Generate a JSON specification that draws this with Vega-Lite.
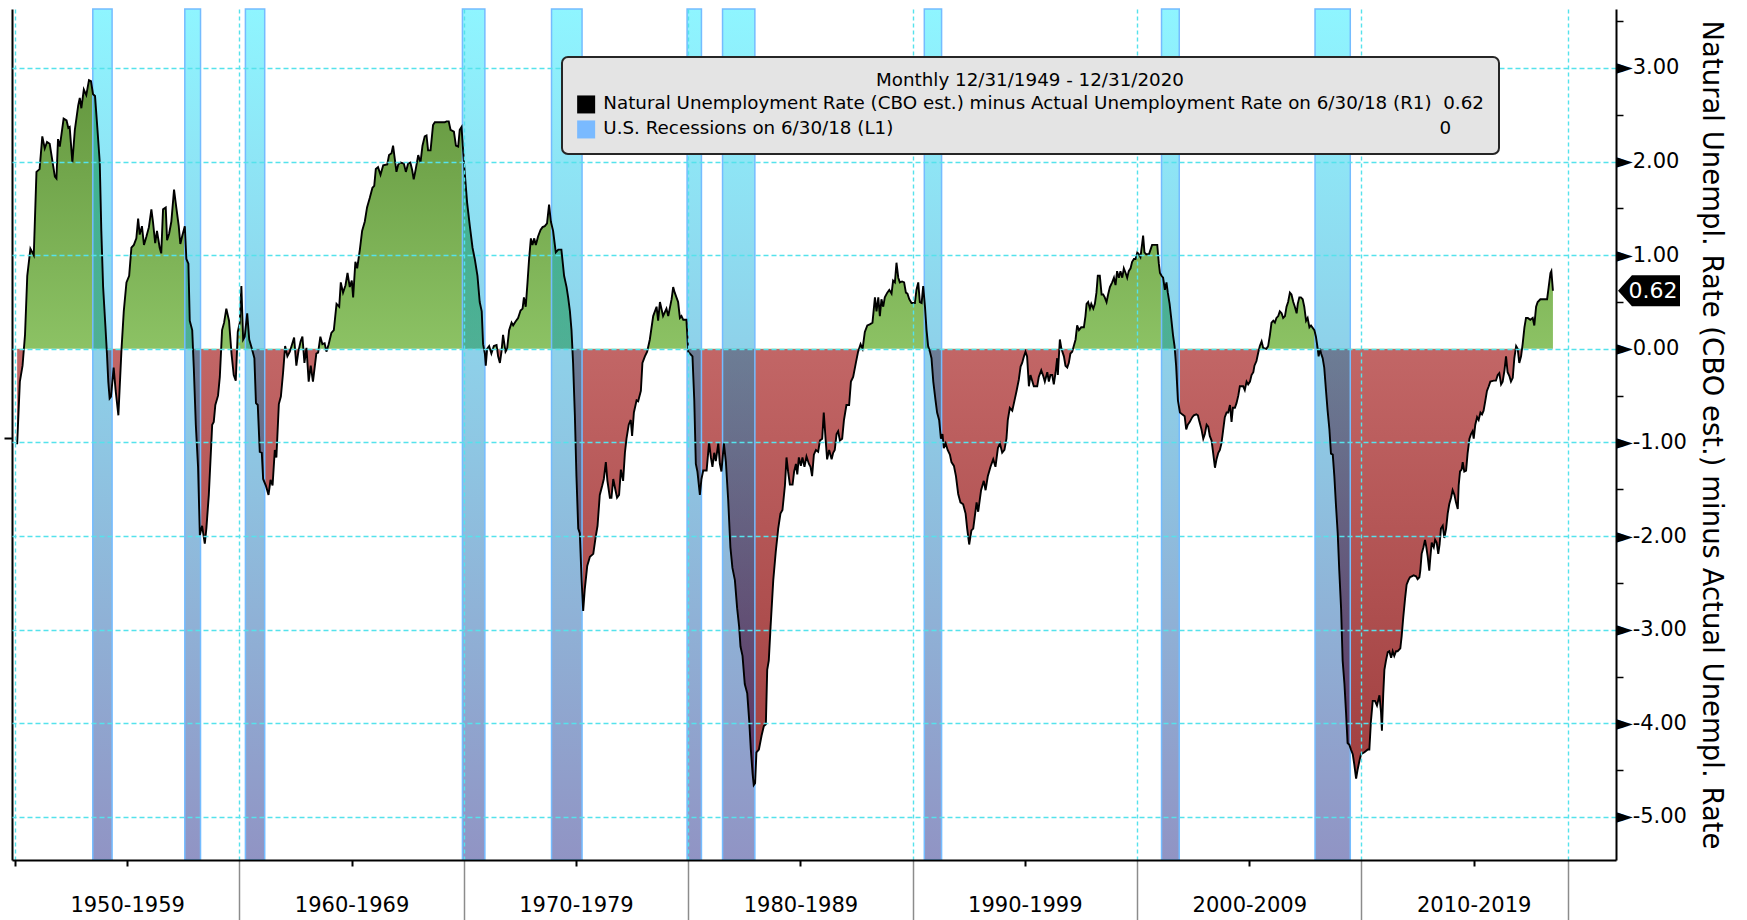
{
"$schema": "https://vega.github.io/schema/vega-lite/v6.json",
"width": 1604, "height": 851,
"autosize": {"type": "none"},
"padding": {"left": 12, "top": 9, "right": 131, "bottom": 60},
"background": "white",
"config": {"view": {"stroke": null}, "font": "DejaVu Sans"},
"datasets": {
"ue": [
{"t":1950.10,"v":-1.02},{"t":1950.22,"v":-0.35},{"t":1950.34,"v":-0.18},{"t":1950.45,"v":0.15},{"t":1950.55,"v":0.78},{"t":1950.69,"v":1.07},{"t":1950.84,"v":1.00},{"t":1950.96,"v":1.89},{"t":1951.10,"v":1.92},{"t":1951.22,"v":2.27},{"t":1951.33,"v":2.14},{"t":1951.43,"v":2.21},{"t":1951.55,"v":2.19},{"t":1951.78,"v":1.84},{"t":1951.85,"v":1.82},{"t":1951.92,"v":2.24},{"t":1952.00,"v":2.16},{"t":1952.17,"v":2.46},{"t":1952.30,"v":2.44},{"t":1952.38,"v":2.36},{"t":1952.44,"v":2.37},{"t":1952.56,"v":1.99},{"t":1952.67,"v":2.34},{"t":1952.82,"v":2.60},{"t":1952.89,"v":2.68},{"t":1952.96,"v":2.57},{"t":1953.07,"v":2.77},{"t":1953.18,"v":2.71},{"t":1953.30,"v":2.87},{"t":1953.39,"v":2.86},{"t":1953.48,"v":2.72},{"t":1953.57,"v":2.70},{"t":1953.67,"v":2.37},{"t":1953.78,"v":1.99},{"t":1953.85,"v":1.26},{"t":1953.93,"v":0.66},{"t":1954.03,"v":0.25},{"t":1954.10,"v":-0.05},{"t":1954.16,"v":-0.35},{"t":1954.22,"v":-0.53},{"t":1954.28,"v":-0.51},{"t":1954.40,"v":-0.20},{"t":1954.49,"v":-0.45},{"t":1954.61,"v":-0.71},{"t":1954.75,"v":0.00},{"t":1954.85,"v":0.40},{"t":1954.97,"v":0.71},{"t":1955.09,"v":0.78},{"t":1955.19,"v":1.08},{"t":1955.30,"v":1.11},{"t":1955.41,"v":1.18},{"t":1955.49,"v":1.39},{"t":1955.56,"v":1.22},{"t":1955.66,"v":1.31},{"t":1955.75,"v":1.11},{"t":1955.86,"v":1.20},{"t":1955.97,"v":1.30},{"t":1956.08,"v":1.49},{"t":1956.15,"v":1.36},{"t":1956.25,"v":1.13},{"t":1956.33,"v":1.26},{"t":1956.45,"v":1.08},{"t":1956.52,"v":1.02},{"t":1956.60,"v":1.49},{"t":1956.72,"v":1.51},{"t":1956.78,"v":1.16},{"t":1956.87,"v":1.23},{"t":1956.97,"v":1.36},{"t":1957.09,"v":1.70},{"t":1957.19,"v":1.51},{"t":1957.30,"v":1.31},{"t":1957.37,"v":1.12},{"t":1957.46,"v":1.21},{"t":1957.57,"v":1.31},{"t":1957.64,"v":0.96},{"t":1957.73,"v":0.91},{"t":1957.79,"v":0.30},{"t":1957.90,"v":0.20},{"t":1957.97,"v":-0.20},{"t":1958.06,"v":-0.81},{"t":1958.16,"v":-1.26},{"t":1958.24,"v":-1.99},{"t":1958.34,"v":-1.89},{"t":1958.46,"v":-2.08},{"t":1958.53,"v":-1.92},{"t":1958.64,"v":-1.56},{"t":1958.73,"v":-1.11},{"t":1958.79,"v":-0.81},{"t":1958.86,"v":-0.78},{"t":1958.93,"v":-0.60},{"t":1959.05,"v":-0.50},{"t":1959.13,"v":-0.30},{"t":1959.23,"v":0.20},{"t":1959.32,"v":0.28},{"t":1959.42,"v":0.43},{"t":1959.54,"v":0.30},{"t":1959.65,"v":-0.05},{"t":1959.75,"v":-0.28},{"t":1959.84,"v":-0.34},{"t":1959.93,"v":0.18},{"t":1960.02,"v":0.28},{"t":1960.09,"v":0.67},{"t":1960.17,"v":0.10},{"t":1960.24,"v":0.13},{"t":1960.35,"v":0.38},{"t":1960.44,"v":0.10},{"t":1960.56,"v":0.00},{"t":1960.67,"v":-0.10},{"t":1960.74,"v":-0.58},{"t":1960.82,"v":-0.60},{"t":1960.91,"v":-1.10},{"t":1961.00,"v":-1.11},{"t":1961.06,"v":-1.39},{"t":1961.18,"v":-1.46},{"t":1961.30,"v":-1.56},{"t":1961.39,"v":-1.40},{"t":1961.48,"v":-1.46},{"t":1961.58,"v":-1.08},{"t":1961.65,"v":-1.16},{"t":1961.76,"v":-0.59},{"t":1961.85,"v":-0.51},{"t":1961.95,"v":-0.25},{"t":1962.04,"v":0.03},{"t":1962.14,"v":-0.08},{"t":1962.25,"v":-0.03},{"t":1962.35,"v":0.05},{"t":1962.44,"v":0.12},{"t":1962.54,"v":-0.18},{"t":1962.63,"v":-0.03},{"t":1962.73,"v":0.08},{"t":1962.81,"v":0.13},{"t":1962.90,"v":-0.15},{"t":1962.99,"v":0.01},{"t":1963.09,"v":-0.35},{"t":1963.18,"v":-0.18},{"t":1963.28,"v":-0.35},{"t":1963.43,"v":-0.05},{"t":1963.51,"v":-0.04},{"t":1963.61,"v":0.13},{"t":1963.70,"v":0.05},{"t":1963.80,"v":0.06},{"t":1963.88,"v":-0.03},{"t":1963.98,"v":0.05},{"t":1964.10,"v":0.17},{"t":1964.21,"v":0.20},
{"t":1964.33,"v":0.48},{"t":1964.45,"v":0.45},{"t":1964.52,"v":0.71},{"t":1964.62,"v":0.60},{"t":1964.73,"v":0.68},{"t":1964.82,"v":0.81},{"t":1964.92,"v":0.66},{"t":1965.01,"v":0.73},{"t":1965.07,"v":0.55},{"t":1965.17,"v":0.93},{"t":1965.25,"v":0.86},{"t":1965.37,"v":1.06},{"t":1965.47,"v":1.26},{"t":1965.59,"v":1.36},{"t":1965.69,"v":1.51},{"t":1965.81,"v":1.61},{"t":1965.93,"v":1.72},{"t":1966.01,"v":1.74},{"t":1966.08,"v":1.92},{"t":1966.18,"v":1.94},{"t":1966.29,"v":1.86},{"t":1966.41,"v":1.96},{"t":1966.59,"v":1.97},{"t":1966.67,"v":2.07},{"t":1966.78,"v":2.09},{"t":1966.85,"v":2.17},{"t":1966.93,"v":2.02},{"t":1967.00,"v":1.89},{"t":1967.08,"v":1.97},{"t":1967.18,"v":1.99},{"t":1967.33,"v":1.98},{"t":1967.42,"v":1.89},{"t":1967.52,"v":1.98},{"t":1967.62,"v":1.99},{"t":1967.70,"v":1.91},{"t":1967.77,"v":1.81},{"t":1967.86,"v":1.92},{"t":1967.97,"v":2.07},{"t":1968.07,"v":1.99},{"t":1968.16,"v":2.17},{"t":1968.26,"v":2.27},{"t":1968.34,"v":2.28},{"t":1968.41,"v":2.12},{"t":1968.52,"v":2.12},{"t":1968.63,"v":2.39},{"t":1968.71,"v":2.42},{"t":1968.86,"v":2.42},{"t":1969.15,"v":2.42},{"t":1969.23,"v":2.43},{"t":1969.33,"v":2.43},{"t":1969.41,"v":2.34},{"t":1969.56,"v":2.32},{"t":1969.65,"v":2.17},{"t":1969.75,"v":2.16},{"t":1969.82,"v":2.34},{"t":1969.90,"v":2.37},{"t":1969.97,"v":2.12},{"t":1970.05,"v":1.86},{"t":1970.15,"v":1.56},{"t":1970.27,"v":1.31},{"t":1970.39,"v":1.08},{"t":1970.49,"v":0.96},{"t":1970.61,"v":0.78},{"t":1970.71,"v":0.50},{"t":1970.80,"v":0.40},{"t":1970.86,"v":0.05},{"t":1970.94,"v":-0.05},{"t":1970.98,"v":-0.18},{"t":1971.04,"v":0.00},{"t":1971.13,"v":0.03},{"t":1971.23,"v":-0.05},{"t":1971.34,"v":0.03},{"t":1971.46,"v":0.04},{"t":1971.53,"v":-0.08},{"t":1971.61,"v":-0.15},{"t":1971.68,"v":-0.03},{"t":1971.75,"v":0.15},{"t":1971.86,"v":-0.03},{"t":1971.93,"v":0.00},{"t":1972.02,"v":0.20},{"t":1972.13,"v":0.28},{"t":1972.20,"v":0.25},{"t":1972.30,"v":0.29},{"t":1972.42,"v":0.33},{"t":1972.53,"v":0.41},{"t":1972.62,"v":0.43},{"t":1972.68,"v":0.55},{"t":1972.76,"v":0.45},{"t":1972.84,"v":0.71},{"t":1972.91,"v":0.96},{"t":1972.99,"v":1.18},{"t":1973.06,"v":1.11},{"t":1973.14,"v":1.18},{"t":1973.21,"v":1.11},{"t":1973.31,"v":1.20},{"t":1973.42,"v":1.27},{"t":1973.51,"v":1.30},{"t":1973.61,"v":1.31},{"t":1973.71,"v":1.34},{"t":1973.80,"v":1.54},{"t":1973.88,"v":1.36},{"t":1973.98,"v":1.26},{"t":1974.10,"v":1.03},{"t":1974.21,"v":1.06},{"t":1974.35,"v":1.06},{"t":1974.47,"v":0.78},{"t":1974.58,"v":0.66},{"t":1974.65,"v":0.55},{"t":1974.73,"v":0.40},{"t":1974.80,"v":0.20},{"t":1974.87,"v":-0.15},{"t":1974.95,"v":-0.71},{"t":1975.02,"v":-1.36},{"t":1975.10,"v":-1.92},{"t":1975.17,"v":-1.97},{"t":1975.25,"v":-2.47},{"t":1975.32,"v":-2.80},{"t":1975.39,"v":-2.57},{"t":1975.50,"v":-2.32},{"t":1975.62,"v":-2.22},{"t":1975.77,"v":-2.19},{"t":1975.87,"v":-2.02},{"t":1975.96,"v":-1.89},{"t":1976.06,"v":-1.56},{"t":1976.17,"v":-1.46},{"t":1976.24,"v":-1.39},{"t":1976.33,"v":-1.21},{"t":1976.40,"v":-1.41},{"t":1976.51,"v":-1.59},{"t":1976.58,"v":-1.59},{"t":1976.66,"v":-1.39},{"t":1976.76,"v":-1.51},{"t":1976.83,"v":-1.59},{"t":1976.92,"v":-1.56},{"t":1977.00,"v":-1.29},{"t":1977.10,"v":-1.41},{"t":1977.18,"v":-1.11},{"t":1977.25,"v":-0.96},{"t":1977.35,"v":-0.81},{"t":1977.44,"v":-0.76},{"t":1977.50,"v":-0.93},{"t":1977.58,"v":-0.68},{"t":1977.70,"v":-0.55},{"t":1977.77,"v":-0.56},{"t":1977.89,"v":-0.45},{"t":1977.96,"v":-0.15},{"t":1978.07,"v":-0.08},{"t":1978.17,"v":-0.03},
{"t":1978.29,"v":0.10},{"t":1978.44,"v":0.35},{"t":1978.59,"v":0.45},{"t":1978.66,"v":0.30},{"t":1978.74,"v":0.50},{"t":1978.88,"v":0.35},{"t":1979.03,"v":0.43},{"t":1979.11,"v":0.35},{"t":1979.26,"v":0.53},{"t":1979.33,"v":0.66},{"t":1979.40,"v":0.60},{"t":1979.55,"v":0.50},{"t":1979.63,"v":0.33},{"t":1979.70,"v":0.35},{"t":1979.78,"v":0.31},{"t":1979.92,"v":0.31},{"t":1980.00,"v":-0.03},{"t":1980.19,"v":-0.08},{"t":1980.27,"v":-0.55},{"t":1980.34,"v":-1.23},{"t":1980.41,"v":-1.31},{"t":1980.52,"v":-1.56},{"t":1980.59,"v":-1.39},{"t":1980.67,"v":-1.30},{"t":1980.82,"v":-1.30},{"t":1980.93,"v":-1.00},{"t":1981.01,"v":-1.16},{"t":1981.08,"v":-1.26},{"t":1981.16,"v":-1.11},{"t":1981.23,"v":-1.20},{"t":1981.34,"v":-1.01},{"t":1981.41,"v":-1.23},{"t":1981.48,"v":-1.31},{"t":1981.59,"v":-1.01},{"t":1981.68,"v":-1.21},{"t":1981.78,"v":-1.61},{"t":1981.88,"v":-2.12},{"t":1981.97,"v":-2.34},{"t":1982.08,"v":-2.47},{"t":1982.18,"v":-2.77},{"t":1982.27,"v":-2.97},{"t":1982.33,"v":-3.18},{"t":1982.42,"v":-3.28},{"t":1982.52,"v":-3.58},{"t":1982.63,"v":-3.68},{"t":1982.72,"v":-3.98},{"t":1982.79,"v":-4.28},{"t":1982.87,"v":-4.54},{"t":1982.92,"v":-4.66},{"t":1982.98,"v":-4.64},{"t":1983.04,"v":-4.31},{"t":1983.15,"v":-4.28},{"t":1983.27,"v":-4.13},{"t":1983.37,"v":-4.03},{"t":1983.46,"v":-4.01},{"t":1983.52,"v":-3.43},{"t":1983.59,"v":-3.33},{"t":1983.67,"v":-2.97},{"t":1983.79,"v":-2.47},{"t":1983.90,"v":-2.17},{"t":1984.01,"v":-1.92},{"t":1984.11,"v":-1.76},{"t":1984.20,"v":-1.72},{"t":1984.31,"v":-1.46},{"t":1984.38,"v":-1.16},{"t":1984.45,"v":-1.31},{"t":1984.53,"v":-1.45},{"t":1984.65,"v":-1.45},{"t":1984.72,"v":-1.31},{"t":1984.80,"v":-1.23},{"t":1984.86,"v":-1.34},{"t":1984.93,"v":-1.16},{"t":1985.02,"v":-1.25},{"t":1985.09,"v":-1.16},{"t":1985.18,"v":-1.26},{"t":1985.27,"v":-1.15},{"t":1985.38,"v":-1.23},{"t":1985.45,"v":-1.26},{"t":1985.52,"v":-1.36},{"t":1985.60,"v":-1.13},{"t":1985.69,"v":-1.08},{"t":1985.79,"v":-1.10},{"t":1985.87,"v":-0.98},{"t":1985.97,"v":-0.96},{"t":1986.04,"v":-0.68},{"t":1986.12,"v":-0.96},{"t":1986.19,"v":-1.18},{"t":1986.28,"v":-1.08},{"t":1986.39,"v":-1.18},{"t":1986.46,"v":-1.11},{"t":1986.53,"v":-1.08},{"t":1986.61,"v":-0.91},{"t":1986.68,"v":-0.88},{"t":1986.76,"v":-0.98},{"t":1986.86,"v":-0.96},{"t":1986.94,"v":-0.76},{"t":1987.05,"v":-0.60},{"t":1987.17,"v":-0.60},{"t":1987.25,"v":-0.35},{"t":1987.35,"v":-0.30},{"t":1987.47,"v":-0.15},{"t":1987.57,"v":-0.03},{"t":1987.68,"v":0.05},{"t":1987.77,"v":0.00},{"t":1987.87,"v":0.18},{"t":1987.98,"v":0.25},{"t":1988.09,"v":0.26},{"t":1988.21,"v":0.28},{"t":1988.32,"v":0.55},{"t":1988.39,"v":0.40},{"t":1988.47,"v":0.55},{"t":1988.54,"v":0.35},{"t":1988.61,"v":0.53},{"t":1988.69,"v":0.45},{"t":1988.76,"v":0.55},{"t":1988.87,"v":0.60},{"t":1988.96,"v":0.63},{"t":1989.06,"v":0.59},{"t":1989.13,"v":0.73},{"t":1989.21,"v":0.71},{"t":1989.28,"v":0.92},{"t":1989.36,"v":0.76},{"t":1989.43,"v":0.71},{"t":1989.53,"v":0.72},{"t":1989.62,"v":0.71},{"t":1989.70,"v":0.60},{"t":1989.77,"v":0.59},{"t":1989.85,"v":0.53},{"t":1989.95,"v":0.49},{"t":1990.10,"v":0.49},{"t":1990.17,"v":0.63},{"t":1990.25,"v":0.71},{"t":1990.32,"v":0.50},{"t":1990.40,"v":0.49},{"t":1990.47,"v":0.67},{"t":1990.55,"v":0.45},{"t":1990.62,"v":0.20},{"t":1990.69,"v":0.03},{"t":1990.77,"v":-0.03},{"t":1990.84,"v":-0.10},{"t":1990.92,"v":-0.35},{"t":1991.02,"v":-0.55},{"t":1991.09,"v":-0.68},{"t":1991.18,"v":-0.76},{"t":1991.26,"v":-0.96},{"t":1991.33,"v":-0.91},{"t":1991.39,"v":-1.06},{"t":1991.47,"v":-1.01},{"t":1991.56,"v":-1.08},{"t":1991.66,"v":-1.13},{"t":1991.73,"v":-1.21},{"t":1991.84,"v":-1.25},{"t":1991.93,"v":-1.36},{"t":1992.03,"v":-1.55},{"t":1992.13,"v":-1.64},{"t":1992.25,"v":-1.66},{"t":1992.36,"v":-1.76},{"t":1992.43,"v":-1.92},{"t":1992.52,"v":-2.09},{"t":1992.62,"v":-1.94},{"t":1992.70,"v":-1.92},{"t":1992.85,"v":-1.64},{"t":1992.92,"v":-1.74},
{"t":1993.05,"v":-1.51},{"t":1993.17,"v":-1.41},{"t":1993.25,"v":-1.51},{"t":1993.35,"v":-1.36},{"t":1993.47,"v":-1.26},{"t":1993.59,"v":-1.18},{"t":1993.69,"v":-1.26},{"t":1993.80,"v":-1.06},{"t":1993.89,"v":-1.01},{"t":1993.99,"v":-1.11},{"t":1994.09,"v":-1.08},{"t":1994.18,"v":-0.96},{"t":1994.24,"v":-0.76},{"t":1994.33,"v":-0.63},{"t":1994.44,"v":-0.66},{"t":1994.54,"v":-0.55},{"t":1994.63,"v":-0.45},{"t":1994.73,"v":-0.33},{"t":1994.81,"v":-0.19},{"t":1994.88,"v":-0.15},{"t":1994.96,"v":-0.08},{"t":1995.03,"v":-0.03},{"t":1995.10,"v":-0.08},{"t":1995.18,"v":-0.40},{"t":1995.25,"v":-0.28},{"t":1995.40,"v":-0.40},{"t":1995.55,"v":-0.40},{"t":1995.62,"v":-0.30},{"t":1995.73,"v":-0.23},{"t":1995.82,"v":-0.29},{"t":1995.89,"v":-0.35},{"t":1996.00,"v":-0.25},{"t":1996.07,"v":-0.35},{"t":1996.14,"v":-0.28},{"t":1996.22,"v":-0.28},{"t":1996.29,"v":-0.38},{"t":1996.37,"v":-0.25},{"t":1996.44,"v":-0.10},{"t":1996.47,"v":-0.28},{"t":1996.56,"v":0.10},{"t":1996.63,"v":0.00},{"t":1996.74,"v":-0.08},{"t":1996.81,"v":-0.18},{"t":1996.89,"v":-0.20},{"t":1996.96,"v":-0.15},{"t":1997.03,"v":-0.05},{"t":1997.11,"v":-0.03},{"t":1997.18,"v":0.03},{"t":1997.26,"v":0.10},{"t":1997.33,"v":0.25},{"t":1997.41,"v":0.20},{"t":1997.51,"v":0.23},{"t":1997.63,"v":0.23},{"t":1997.70,"v":0.35},{"t":1997.75,"v":0.48},{"t":1997.82,"v":0.50},{"t":1997.90,"v":0.43},{"t":1997.96,"v":0.48},{"t":1998.05,"v":0.43},{"t":1998.12,"v":0.48},{"t":1998.19,"v":0.60},{"t":1998.25,"v":0.78},{"t":1998.34,"v":0.78},{"t":1998.42,"v":0.58},{"t":1998.49,"v":0.58},{"t":1998.56,"v":0.55},{"t":1998.64,"v":0.50},{"t":1998.71,"v":0.58},{"t":1998.79,"v":0.66},{"t":1998.89,"v":0.71},{"t":1998.97,"v":0.76},{"t":1999.04,"v":0.68},{"t":1999.11,"v":0.83},{"t":1999.19,"v":0.76},{"t":1999.26,"v":0.83},{"t":1999.34,"v":0.76},{"t":1999.41,"v":0.86},{"t":1999.49,"v":0.81},{"t":1999.56,"v":0.76},{"t":1999.63,"v":0.83},{"t":1999.71,"v":0.86},{"t":1999.78,"v":0.93},{"t":1999.86,"v":0.96},{"t":1999.93,"v":0.96},{"t":2000.01,"v":1.03},{"t":2000.08,"v":1.01},{"t":2000.15,"v":0.98},{"t":2000.23,"v":1.13},{"t":2000.27,"v":1.21},{"t":2000.33,"v":1.03},{"t":2000.41,"v":1.01},{"t":2000.53,"v":1.01},{"t":2000.60,"v":1.06},{"t":2000.67,"v":1.11},{"t":2000.90,"v":1.11},{"t":2000.97,"v":0.91},{"t":2001.02,"v":0.81},{"t":2001.09,"v":0.78},{"t":2001.16,"v":0.76},{"t":2001.24,"v":0.63},{"t":2001.31,"v":0.71},{"t":2001.37,"v":0.60},{"t":2001.45,"v":0.48},{"t":2001.52,"v":0.33},{"t":2001.60,"v":0.15},{"t":2001.67,"v":0.03},{"t":2001.74,"v":-0.18},{"t":2001.82,"v":-0.55},{"t":2001.91,"v":-0.68},{"t":2002.01,"v":-0.70},{"t":2002.12,"v":-0.72},{"t":2002.19,"v":-0.86},{"t":2002.26,"v":-0.81},{"t":2002.35,"v":-0.78},{"t":2002.46,"v":-0.73},{"t":2002.53,"v":-0.71},{"t":2002.64,"v":-0.70},{"t":2002.71,"v":-0.71},{"t":2002.78,"v":-0.78},{"t":2002.87,"v":-0.86},{"t":2002.95,"v":-0.96},{"t":2003.02,"v":-0.91},{"t":2003.10,"v":-0.81},{"t":2003.17,"v":-0.83},{"t":2003.24,"v":-0.93},{"t":2003.32,"v":-0.98},{"t":2003.39,"v":-1.11},{"t":2003.47,"v":-1.27},{"t":2003.54,"v":-1.18},{"t":2003.62,"v":-1.11},{"t":2003.69,"v":-1.08},{"t":2003.76,"v":-1.01},{"t":2003.84,"v":-0.86},{"t":2003.91,"v":-0.73},{"t":2003.99,"v":-0.68},{"t":2004.06,"v":-0.68},{"t":2004.14,"v":-0.60},{"t":2004.21,"v":-0.78},{"t":2004.27,"v":-0.63},{"t":2004.36,"v":-0.63},{"t":2004.43,"v":-0.58},{"t":2004.51,"v":-0.50},{"t":2004.58,"v":-0.40},{"t":2004.73,"v":-0.40},{"t":2004.80,"v":-0.44},{"t":2004.88,"v":-0.35},{"t":2004.95,"v":-0.38},{"t":2005.03,"v":-0.35},{"t":2005.10,"v":-0.28},{"t":2005.18,"v":-0.25},{"t":2005.23,"v":-0.18},{"t":2005.32,"v":-0.13},{"t":2005.40,"v":-0.04},{"t":2005.47,"v":0.03},{"t":2005.55,"v":0.08},{"t":2005.62,"v":0.01},{"t":2005.77,"v":0.00},{"t":2005.84,"v":0.03},{"t":2005.92,"v":0.15},{"t":2005.99,"v":0.28},{"t":2006.07,"v":0.30},{"t":2006.14,"v":0.28},{"t":2006.21,"v":0.33},{"t":2006.29,"v":0.35},{"t":2006.36,"v":0.40},{"t":2006.44,"v":0.38},{"t":2006.51,"v":0.33},{"t":2006.59,"v":0.35},{"t":2006.66,"v":0.45},{"t":2006.73,"v":0.50},{"t":2006.81,"v":0.60},{"t":2006.88,"v":0.58},{"t":2006.96,"v":0.50},{"t":2007.03,"v":0.45},{"t":2007.11,"v":0.38},
{"t":2007.16,"v":0.48},{"t":2007.23,"v":0.55},{"t":2007.30,"v":0.55},{"t":2007.38,"v":0.53},{"t":2007.45,"v":0.45},{"t":2007.53,"v":0.30},{"t":2007.60,"v":0.33},{"t":2007.68,"v":0.23},{"t":2007.75,"v":0.25},{"t":2007.90,"v":0.20},{"t":2007.97,"v":0.13},{"t":2008.05,"v":0.00},{"t":2008.09,"v":-0.08},{"t":2008.15,"v":0.00},{"t":2008.20,"v":-0.05},{"t":2008.27,"v":-0.10},{"t":2008.34,"v":-0.20},{"t":2008.42,"v":-0.45},{"t":2008.49,"v":-0.66},{"t":2008.57,"v":-0.86},{"t":2008.64,"v":-1.12},{"t":2008.72,"v":-1.13},{"t":2008.79,"v":-1.36},{"t":2008.86,"v":-1.66},{"t":2008.94,"v":-1.97},{"t":2009.01,"v":-2.37},{"t":2009.09,"v":-2.77},{"t":2009.16,"v":-3.33},{"t":2009.24,"v":-3.58},{"t":2009.31,"v":-3.88},{"t":2009.38,"v":-4.21},{"t":2009.46,"v":-4.23},{"t":2009.53,"v":-4.28},{"t":2009.61,"v":-4.33},{"t":2009.68,"v":-4.44},{"t":2009.76,"v":-4.59},{"t":2009.83,"v":-4.49},{"t":2009.90,"v":-4.41},{"t":2009.98,"v":-4.33},{"t":2010.13,"v":-4.31},{"t":2010.28,"v":-4.28},{"t":2010.35,"v":-4.28},{"t":2010.42,"v":-3.98},{"t":2010.50,"v":-3.76},{"t":2010.60,"v":-3.76},{"t":2010.69,"v":-3.81},{"t":2010.80,"v":-3.70},{"t":2010.87,"v":-3.88},{"t":2010.91,"v":-4.08},{"t":2010.97,"v":-3.68},{"t":2011.02,"v":-3.43},{"t":2011.09,"v":-3.33},{"t":2011.17,"v":-3.24},{"t":2011.24,"v":-3.23},{"t":2011.32,"v":-3.30},{"t":2011.39,"v":-3.23},{"t":2011.46,"v":-3.28},{"t":2011.54,"v":-3.23},{"t":2011.61,"v":-3.23},{"t":2011.73,"v":-3.20},{"t":2011.79,"v":-3.07},{"t":2011.86,"v":-2.87},{"t":2011.94,"v":-2.67},{"t":2012.01,"v":-2.52},{"t":2012.09,"v":-2.47},{"t":2012.16,"v":-2.44},{"t":2012.24,"v":-2.43},{"t":2012.32,"v":-2.42},{"t":2012.43,"v":-2.43},{"t":2012.50,"v":-2.46},{"t":2012.58,"v":-2.44},{"t":2012.62,"v":-2.37},{"t":2012.68,"v":-2.19},{"t":2012.76,"v":-2.12},{"t":2012.83,"v":-2.04},{"t":2012.89,"v":-2.12},{"t":2012.95,"v":-2.22},{"t":2013.02,"v":-2.37},{"t":2013.07,"v":-2.22},{"t":2013.13,"v":-2.07},{"t":2013.22,"v":-2.12},{"t":2013.28,"v":-2.04},{"t":2013.35,"v":-2.07},{"t":2013.42,"v":-2.19},{"t":2013.48,"v":-2.09},{"t":2013.54,"v":-1.92},{"t":2013.62,"v":-1.89},{"t":2013.69,"v":-2.02},{"t":2013.77,"v":-1.92},{"t":2013.84,"v":-1.76},{"t":2013.91,"v":-1.66},{"t":2013.99,"v":-1.59},{"t":2014.06,"v":-1.51},{"t":2014.14,"v":-1.56},{"t":2014.21,"v":-1.64},{"t":2014.29,"v":-1.71},{"t":2014.33,"v":-1.46},{"t":2014.39,"v":-1.31},{"t":2014.46,"v":-1.29},{"t":2014.51,"v":-1.21},{"t":2014.58,"v":-1.31},{"t":2014.66,"v":-1.30},{"t":2014.73,"v":-1.11},{"t":2014.81,"v":-0.96},{"t":2014.88,"v":-0.91},{"t":2014.95,"v":-0.88},{"t":2015.00,"v":-0.96},{"t":2015.07,"v":-0.81},{"t":2015.15,"v":-0.73},{"t":2015.22,"v":-0.76},{"t":2015.30,"v":-0.68},{"t":2015.37,"v":-0.70},{"t":2015.44,"v":-0.66},{"t":2015.52,"v":-0.55},{"t":2015.59,"v":-0.45},{"t":2015.67,"v":-0.40},{"t":2015.74,"v":-0.35},{"t":2015.89,"v":-0.34},{"t":2015.99,"v":-0.34},{"t":2016.07,"v":-0.28},{"t":2016.14,"v":-0.26},{"t":2016.22,"v":-0.38},{"t":2016.29,"v":-0.35},{"t":2016.37,"v":-0.23},{"t":2016.44,"v":-0.08},{"t":2016.51,"v":-0.25},{"t":2016.59,"v":-0.29},{"t":2016.66,"v":-0.35},{"t":2016.74,"v":-0.31},{"t":2016.81,"v":-0.10},{"t":2016.89,"v":0.03},{"t":2016.96,"v":0.00},{"t":2017.03,"v":-0.15},{"t":2017.11,"v":-0.08},{"t":2017.18,"v":0.05},{"t":2017.26,"v":0.23},{"t":2017.33,"v":0.33},{"t":2017.41,"v":0.33},{"t":2017.52,"v":0.31},{"t":2017.63,"v":0.33},{"t":2017.70,"v":0.25},{"t":2017.78,"v":0.45},{"t":2017.85,"v":0.50},{"t":2017.97,"v":0.53},{"t":2018.07,"v":0.53},{"t":2018.18,"v":0.53},{"t":2018.27,"v":0.53},{"t":2018.34,"v":0.66},{"t":2018.42,"v":0.81},{"t":2018.46,"v":0.83},{"t":2018.53,"v":0.62}
],
"rec": [
{"start":1953.47,"end":1954.33},{"start":1957.57,"end":1958.27},{"start":1960.27,"end":1961.13},{"start":1969.94,"end":1970.94},{"start":1973.91,"end":1975.27},{"start":1979.95,"end":1980.59},{"start":1981.53,"end":1982.97},{"start":1990.52,"end":1991.29},{"start":2001.09,"end":2001.88},{"start":2007.93,"end":2009.50}
],
"leg": [
{"series":"Natural Unemployment Rate (CBO est.) minus Actual Unemployment Rate on 6/30/18 (R1)","last":0.62},
{"series":"U.S. Recessions on 6/30/18 (L1)","last":0}
]
},
"layer": [
{
"data": {"name": "ue"},
"mark": {"type": "area", "interpolate": "linear", "fill": {"gradient": "linear", "x1": 0, "y1": 0, "x2": 0, "y2": 1, "stops": [{"offset": 0, "color": "#64973f"}, {"offset": 0.3811, "color": "#8cc264"}, {"offset": 0.3811, "color": "#c26666"}, {"offset": 1, "color": "#a03f3f"}]}},
"encoding": {
"x": {"field": "t", "type": "quantitative", "scale": {"domain": [1949.87, 2021.34], "nice": false, "zero": false},
"axis": {"title": null, "values": [1950,1955,1960,1965,1970,1975,1980,1985,1990,1995,2000,2005,2010,2015,2019.2],
"labelExpr": "datum.value % 10 == 5 ? (datum.value - 5) + '-' + (datum.value + 4) : ''",
"labelFontSize": 21, "labelColor": "black", "labelPadding": 28, "labelOverlap": false, "labelFlush": false,
"domainColor": "black", "domainWidth": 2,
"tickSize": {"condition": {"test": "datum.value > 1950 && datum.value % 10 != 5", "value": 60}, "value": 6},
"tickColor": {"condition": {"test": "datum.value > 1950 && datum.value % 10 != 5", "value": "#8c8c8c"}, "value": "black"},
"tickWidth": {"condition": {"test": "datum.value > 1950 && datum.value % 10 != 5", "value": 1.5}, "value": 2},
"grid": true, "gridColor": "#55e2ec", "gridDash": [4, 3], "gridWidth": 1.4,
"gridOpacity": {"condition": {"test": "datum.value % 10 == 5", "value": 0}, "value": 1},
"zindex": 1}},
"y": {"field": "v", "type": "quantitative", "scale": {"domain": [-5.46, 3.63], "nice": false, "zero": false},
"axis": {"orient": "right", "title": "Natural Unempl. Rate (CBO est.) minus Actual Unempl. Rate", "titleFontSize": 27.5, "titleFontWeight": "normal", "titleColor": "black", "titlePadding": 10,
"values": [-5,-4,-3,-2,-1,0,1,2,3],
"labelExpr": "(datum.value < 0 ? '►-' : '►') + format(abs(datum.value), '.2f')",
"labelFontSize": 21, "labelColor": "black", "labelPadding": 0, "labelBaseline": "middle", "labelFlush": false, "labelOverlap": false,
"ticks": false, "domainColor": "black", "domainWidth": 2,
"grid": true, "gridColor": "#55e2ec", "gridDash": [5, 3], "gridWidth": 1.5, "zindex": 1}},
"y2": {"datum": 0}
}
},
{
"data": {"name": "rec"},
"mark": {"type": "rect", "fill": {"gradient": "linear", "x1": 0, "y1": 0, "x2": 0, "y2": 1, "stops": [{"offset": 0, "color": "#06e9ff"}, {"offset": 0.5, "color": "#0485c3"}, {"offset": 1, "color": "#0a117c"}]}, "fillOpacity": 0.45, "stroke": "#74bcff", "strokeWidth": 1.5},
"encoding": {
"x": {"field": "start", "type": "quantitative", "scale": {"domain": [1949.87, 2021.34], "nice": false, "zero": false}, "axis": null},
"x2": {"field": "end"}
}
},
{
"data": {"name": "ue"},
"mark": {"type": "line", "color": "black", "strokeWidth": 1.9, "interpolate": "linear"},
"encoding": {
"x": {"field": "t", "type": "quantitative", "scale": {"domain": [1949.87, 2021.34], "nice": false, "zero": false}, "axis": null},
"y": {"field": "v", "type": "quantitative", "scale": {"domain": [-5.46, 3.63], "nice": false, "zero": false},
"axis": {"orient": "right", "title": null, "values": [-5.5,-4.5,-3.5,-2.5,-1.5,-0.5,0.5,1.5,2.5,3.5], "labels": false, "tickSize": 7, "tickColor": "black", "tickWidth": 1.5, "domain": false, "grid": false}}
}
},
{
"data": {"name": "leg"},
"mark": {"type": "point", "shape": "square", "filled": true, "opacity": 0},
"encoding": {
"color": {"field": "series", "type": "nominal",
"scale": {"domain": ["Natural Unemployment Rate (CBO est.) minus Actual Unemployment Rate on 6/30/18 (R1)", "U.S. Recessions on 6/30/18 (L1)"], "range": ["#000000", "#7abaff"]},
"legend": {"title": "Monthly 12/31/1949 - 12/31/2020", "orient": "none", "legendX": 550, "legendY": 48, "direction": "vertical",
"fillColor": "#e4e4e4", "strokeColor": "#262626", "cornerRadius": 6, "padding": 15,
"titleFontSize": 18.3, "titleFontWeight": "normal", "titleColor": "black", "titleAnchor": "middle", "titlePadding": 5, "titleLimit": 3000,
"labelFontSize": 18.3, "labelColor": "black", "labelLimit": 3000, "labelOffset": 8,
"labelExpr": "datum.label == 'U.S. Recessions on 6/30/18 (L1)' ? datum.label + pad('', 94, '\u00a0') + '0' : datum.label + '\u00a0\u00a00.62'",
"symbolType": "square", "symbolSize": 324, "symbolOpacity": 1, "symbolStrokeWidth": 0, "rowPadding": 5, "zindex": 2,
"encode": {"legend": {"update": {"strokeWidth": {"value": 2}}}}}}
}
},
{
"data": {"name": "ue"},
"transform": [{"filter": "datum.t == 2018.53"}],
"mark": {"type": "point", "shape": "M -1 0 L -0.55 -0.5 L 1 -0.5 L 1 0.5 L -0.55 0.5 Z", "size": 3844, "filled": true, "color": "black", "opacity": 1, "strokeWidth": 0, "xOffset": 33},
"encoding": {
"x": {"value": "width"},
"y": {"field": "v", "type": "quantitative", "scale": {"domain": [-5.46, 3.63], "nice": false, "zero": false}, "axis": null}
}
},
{
"data": {"name": "ue"},
"transform": [{"filter": "datum.t == 2018.53"}],
"mark": {"type": "text", "color": "white", "fontSize": 22, "xOffset": 37, "align": "center", "baseline": "middle"},
"encoding": {
"x": {"value": "width"},
"y": {"field": "v", "type": "quantitative", "scale": {"domain": [-5.46, 3.63], "nice": false, "zero": false},
"axis": {"orient": "left", "title": null, "values": [-0.95], "labels": false, "tickSize": 8, "tickWidth": 2, "tickColor": "black", "domainColor": "black", "domainWidth": 2, "grid": false}},
"text": {"field": "v", "type": "quantitative", "format": ".2f"}
}
}
],
"resolve": {"axis": {"x": "independent", "y": "independent"}}
}
